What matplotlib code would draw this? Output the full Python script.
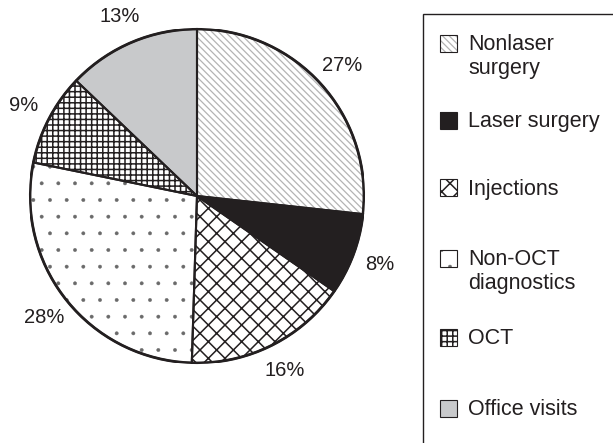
import matplotlib
matplotlib.use("Agg")
from matplotlib import pyplot as plt
from matplotlib.patches import Rectangle

# Data
categories = ["Nonlaser\nsurgery", "Laser surgery", "Injections",
              "Non-OCT\ndiagnostics", "OCT", "Office visits"]
shares = [27, 8, 16, 28, 9, 13]
pct_labels = ["27%", "8%", "16%", "28%", "9%", "13%"]

# fill styles per slice (face, hatch, hatch colour, hatch width)
faces = ["white", "#231f20", "white", "white", "white", "#c8c9cb"]
hatches = ["\\\\\\\\\\", None, "xx", ".", "+++", None]
hatch_cols = ["#b4b4b4", "#231f20", "#231f20", "#6a6a6a", "#231f20", "#c8c9cb"]
hatch_lw = [0.9, 1.0, 1.1, 0.3, 1.1, 1.0]

plt.rcParams["font.family"] = ["Liberation Sans", "DejaVu Sans"]
plt.rcParams["hatch.linewidth"] = 1.0

W, H = 613, 443
fig = plt.figure(figsize=(W / 100, H / 100), dpi=100)

# pie axes placed in pixel terms: centre (197,196), radius 167
cx, cy, r = 197, 196, 167
ax = fig.add_axes([(cx - r) / W, (H - cy - r) / H, 2 * r / W, 2 * r / H])


def style_patch(p, fc, h, hc, lw):
    p.set_facecolor(fc)
    p.set_edgecolor(hc)
    if h:
        p.set_hatch(h)
    if hasattr(p, "set_hatch_linewidth"):
        p.set_hatch_linewidth(lw)


# first pass: fills and hatches (edgecolor sets the hatch colour)
wedges, texts = ax.pie(shares, labels=pct_labels, startangle=90,
                       counterclock=False, labeldistance=1.17,
                       textprops={"fontsize": 14.5, "color": "#231f20"},
                       wedgeprops={"linewidth": 0})
for w, fc, h, hc, lw in zip(wedges, faces, hatches, hatch_cols, hatch_lw):
    style_patch(w, fc, h, hc, lw)
for t in texts:
    t.set_ha("center")
    t.set_va("center")

# second pass: black outlines only
outl, _ = ax.pie(shares, startangle=90, counterclock=False,
                 wedgeprops={"facecolor": "none", "edgecolor": "#231f20",
                             "linewidth": 1.5})
# heavier outer rim
ax.add_patch(plt.Circle((0, 0), 1.0, facecolor="none", edgecolor="#231f20",
                        linewidth=2.0))
ax.set_xlim(-1.0, 1.0)
ax.set_ylim(-1.0, 1.0)
ax.set_aspect("equal")

# legend frame (open at right and bottom, runs off the image)
fig.patches.append(Rectangle((423 / W, -0.1), 0.5, (H - 14) / H + 0.1,
                             transform=fig.transFigure, facecolor="none",
                             edgecolor="#231f20", linewidth=1.0))

leg_y = [43, 120, 188, 258, 337, 408]   # pixel rows of the first text line
box = 17
for y, lab, fc, h, hc, lw in zip(leg_y, categories, faces, hatches,
                                  hatch_cols, hatch_lw):
    x0 = 440
    rect = Rectangle((x0 / W, (H - y - box / 2) / H), box / W, box / H,
                     transform=fig.transFigure, linewidth=0)
    style_patch(rect, fc, h, hc, lw)
    fig.patches.append(rect)
    fig.patches.append(Rectangle((x0 / W, (H - y - box / 2) / H), box / W, box / H,
                                 transform=fig.transFigure, facecolor="none",
                                 edgecolor="#231f20", linewidth=0.8))
    fig.text(468 / W, (H - y + 9) / H, lab, fontsize=15.5, color="#231f20",
             ha="left", va="top", linespacing=1.2)

plt.savefig("out.png", dpi=100)
plt.close("all")
